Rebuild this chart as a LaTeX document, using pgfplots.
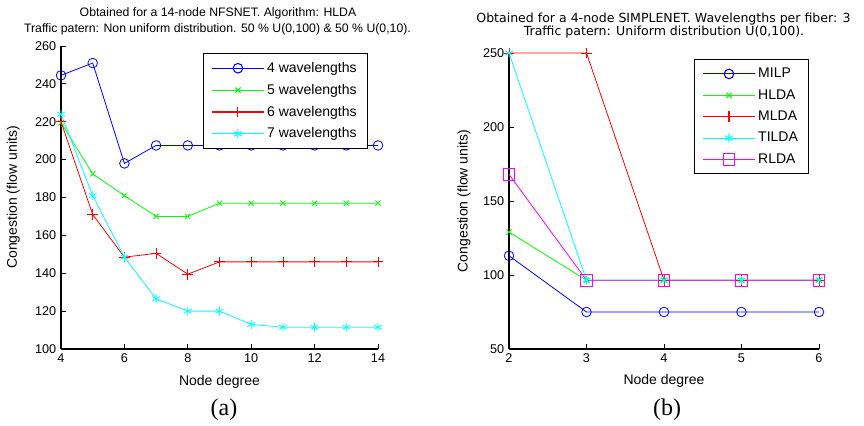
\documentclass[border=0pt]{standalone}
\usepackage{fontspec}
\setmainfont{Liberation Sans}
\newfontfamily\tahoma{DejaVu Sans}
\newfontfamily\timesf{Liberation Serif}
\usepackage{pgfplots}
\pgfplotsset{compat=1.18}
\definecolor{mblue}{RGB}{0,0,255}
\definecolor{mgreen}{RGB}{0,255,0}
\definecolor{mred}{RGB}{255,0,0}
\definecolor{mcyan}{RGB}{0,255,255}
\definecolor{mmag}{RGB}{255,0,255}
\pgfplotsset{
  mlab/.style={
    scale only axis,
    axis lines*=left,
    axis line style={line width=0.8pt,-,black},
    tick align=inside,
    major tick length=4pt,
    tick style={line width=0.6pt,black},
    /pgf/number format/assume math mode=true,
    ticklabel style={font=\fontsize{9.5}{11}\selectfont},
    label style={font=\fontsize{10.5}{12}\selectfont},
    clip=false,
    legend cell align=left,
    legend style={font=\fontsize{10.5}{12}\selectfont, draw=black, line width=0.8pt,
      inner xsep=6pt, inner ysep=4.5pt, row sep=3.3pt},
    legend image code/.code={\draw[mark repeat=2,mark phase=2,line width=0.8pt] plot coordinates {(0pt,0pt) (19.5pt,0pt) (39pt,0pt)};},
    every axis plot/.append style={line width=0.6pt},
  }
}
\begin{document}
\begin{tikzpicture}
\path[use as bounding box] (0,0) rectangle (648pt,318.75pt);
% ---------------- (a)
\begin{axis}[mlab,
  at={(45.75pt,57pt)}, anchor=south west,
  width=237.75pt, height=227.25pt,
  xmin=4, xmax=14, ymin=100, ymax=260,
  xtick={4,6,8,10,12,14}, ytick={100,120,...,260},
  xlabel={Node degree}, ylabel={Congestion (flow units)},
  xlabel style={at={(axis description cs:0.5,0)}, anchor=center, yshift=-24.75pt},
  ylabel style={at={(axis description cs:-0.151,0.5)}, anchor=center},
  legend style={at={(0.968,0.977)}, anchor=north east},
]
\addplot[mblue, mark=o, mark size=3.6pt] coordinates {
 (4,244.5) (5,251) (6,198) (7,207.5) (8,207.5) (9,207.5) (10,207.5) (11,207.5) (12,207.5) (13,207.5) (14,207.5)};
\addplot[mgreen, mark=x, mark size=2.8pt] coordinates {
 (4,219.5) (5,192.5) (6,181) (7,170) (8,170) (9,177) (10,177) (11,177) (12,177) (13,177) (14,177)};
\addplot[mred, mark=+, mark size=4pt] coordinates {
 (4,220) (5,171) (6,148.5) (7,150.5) (8,139.5) (9,146) (10,146) (11,146) (12,146) (13,146) (14,146)};
\addplot[mcyan, mark=asterisk, mark size=3.3pt] coordinates {
 (4,224) (5,181) (6,148.5) (7,126.5) (8,120) (9,120) (10,113) (11,111.5) (12,111.5) (13,111.5) (14,111.5)};
\legend{4 wavelengths,5 wavelengths,6 wavelengths,7 wavelengths}
\end{axis}
\node[font=\fontsize{9.2}{11}\selectfont] at (163.5pt,309pt) {Obtained for a 14-node NFSNET. Algorithm: HLDA};
\node[font=\fontsize{9.2}{11}\selectfont] at (163.1pt,297pt) {Traffic patern: Non uniform distribution. 50 \% U(0,100) \& 50 \% U(0,10).};
\node[font=\timesf\fontsize{18}{20}\selectfont] at (168pt,11.25pt) {(a)};
% ---------------- (b)
\begin{axis}[mlab,
  at={(381.75pt,57pt)}, anchor=south west,
  width=232.5pt, height=222pt,
  xmin=2, xmax=6, ymin=50, ymax=250,
  xtick={2,3,4,5,6}, ytick={50,100,...,250},
  xlabel={Node degree}, ylabel={Congestion (flow units)},
  xlabel style={at={(axis description cs:0.5,0)}, anchor=center, yshift=-24pt},
  ylabel style={at={(axis description cs:-0.145,0.5)}, anchor=center},
  legend style={at={(0.968,0.98)}, anchor=north east},
]
\addplot[mblue, mark=o, mark size=3.6pt] coordinates {(2,113) (3,75) (4,75) (5,75) (6,75)};
\addplot[mgreen, mark=x, mark size=2.8pt] coordinates {(2,129) (3,96.5) (4,96.5) (5,96.5) (6,96.5)};
\addplot[mred, mark=+, mark size=4pt] coordinates {(2,250) (3,250) (4,96.5) (5,96.5) (6,96.5)};
\addplot[mcyan, mark=asterisk, mark size=3.3pt] coordinates {(2,250) (3,96.5) (4,96.5) (5,96.5) (6,96.5)};
\addplot[mmag, mark=square, mark size=4.3pt] coordinates {(2,168) (3,96.5) (4,96.5) (5,96.5) (6,96.5)};
\legend{MILP,HLDA,MLDA,TILDA,RLDA}
\end{axis}
\node[font=\tahoma\fontsize{9.4}{11}\selectfont] at (497.6pt,304.5pt) {Obtained for a 4-node SIMPLENET. Wavelengths per fiber: 3};
\node[font=\tahoma\fontsize{9.4}{11}\selectfont] at (498pt,294.5pt) {Traffic patern: Uniform distribution U(0,100).};
\node[font=\timesf\fontsize{18}{20}\selectfont] at (500.25pt,11.25pt) {(b)};
\end{tikzpicture}
\end{document}
